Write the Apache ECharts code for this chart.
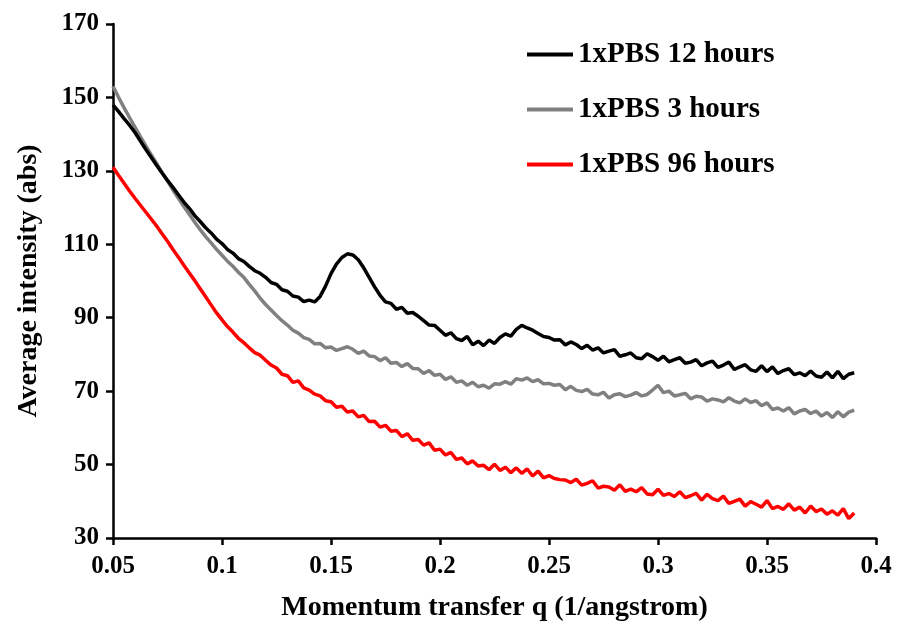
<!DOCTYPE html>
<html>
<head>
<meta charset="utf-8">
<script src="https://cdn.jsdelivr.net/npm/echarts@6/dist/echarts.min.js"></script>
<style>html,body{margin:0;padding:0;background:#fff}#c{width:898px;height:631px}</style>
</head>
<body>
<div id="c"></div>
<script>
var seriesNames = ['1xPBS 12 hours', '1xPBS 3 hours', '1xPBS 96 hours'];
var xTicks = [0.05, 0.1, 0.15, 0.2, 0.25, 0.3, 0.35, 0.4];
var yTicks = [30, 50, 70, 90, 110, 130, 150, 170];

var q = [
0.05,0.0525,0.055,0.0575,0.06,0.0625,0.065,0.0675,0.07,0.0725,0.075,0.0775,
0.08,0.0825,0.085,0.0875,0.09,0.0925,0.095,0.0975,0.1,0.1025,0.105,0.1075,
0.11,0.1125,0.115,0.1175,0.12,0.1225,0.125,0.1275,0.13,0.1325,0.135,0.1375,
0.14,0.1425,0.145,0.1475,0.15,0.1525,0.155,0.1575,0.16,0.1625,0.165,0.1675,
0.17,0.1725,0.175,0.1775,0.18,0.1825,0.185,0.1875,0.19,0.1925,0.195,0.1975,
0.2,0.2025,0.205,0.2075,0.21,0.2125,0.215,0.2175,0.22,0.2225,0.225,0.2275,
0.23,0.2325,0.235,0.2375,0.24,0.2425,0.245,0.2475,0.25,0.2525,0.255,0.2575,
0.26,0.2625,0.265,0.2675,0.27,0.2725,0.275,0.2775,0.28,0.2825,0.285,0.2875,
0.29,0.2925,0.295,0.2975,0.3,0.3025,0.305,0.3075,0.31,0.3125,0.315,0.3175,
0.32,0.3225,0.325,0.3275,0.33,0.3325,0.335,0.3375,0.34,0.3425,0.345,0.3475,
0.35,0.3525,0.355,0.3575,0.36,0.3625,0.365,0.3675,0.37,0.3725,0.375,0.3775,
0.38,0.3825,0.385,0.3875,0.39
];

var pbs12h = [
148,146.2,144.3,142.5, 140.5,138.2,135.9,133.7, 131.5,129.4,127.4,125.5,
123.5,121.5,119.8,117.8, 116.2,114.5,113.1,111.4, 110.2,108.6,107.6,106.1,
105.3,104.0,102.8,102.1, 101.0,99.6,99.1,97.6, 97.2,95.9,95.6,94.4,
94.8,94.3,95.8,98.6, 102.0,104.6,106.4,107.4, 107.1,105.8,103.6,101.0,
98.4,96.1,94.3,93.9, 92.3,92.8,91.2,91.4, 90.4,89.2,88.0,87.9,
86.6,85.2,85.9,84.3, 83.8,84.9,82.6,83.6, 82.4,83.9,83.0,84.6,
85.6,85.0,86.8,87.9, 87.2,86.6,85.7,84.9, 84.6,83.9,84.0,82.6,
83.4,82.7,81.6,82.5, 81.2,81.8,80.4,80.9, 81.3,79.5,79.9,80.4,
79.1,78.8,80.2,79.4, 78.4,79.5,78.0,78.6, 79.1,77.6,77.9,78.6,
76.9,77.7,78.2,76.5, 77.1,77.9,75.9,76.6, 77.2,75.8,75.4,76.9,
75.3,76.6,74.8,75.6, 76.1,74.5,75.0,74.2, 75.5,74.1,73.8,75.2,
73.6,75.4,73.4,74.6, 75.0
];

var pbs3h = [
153,150.1,147.3,144.6, 142.0,139.4,136.9,134.4, 132.0,129.6,127.2,124.8,
122.5,120.3,118.2,116.0, 114.0,112.1,110.4,108.6, 107.0,105.4,104.0,102.4,
101.0,99.1,97.3,95.3, 93.6,92.1,90.6,89.2, 88.0,86.6,85.8,84.6,
84.1,82.9,83.0,81.8, 82.0,81.1,81.6,82.1, 81.4,80.3,80.9,79.6,
79.4,78.3,79.1,77.6, 77.8,76.7,77.5,76.2, 76.1,74.8,75.6,74.3,
74.6,73.2,73.9,72.4, 72.8,71.6,72.4,71.2, 71.6,70.8,72.0,71.9,
72.6,71.9,73.4,73.0, 73.6,72.6,73.1,72.0, 72.1,71.6,71.8,70.4,
71.3,70.2,69.9,70.5, 69.2,69.0,69.7,68.1, 69.0,69.3,68.5,68.9,
69.6,68.7,69.1,70.3, 71.6,69.6,70.0,68.7, 69.0,69.4,67.9,68.6,
68.4,67.3,67.9,67.6, 67.1,68.2,67.3,66.8, 67.9,66.9,67.4,66.0,
66.8,65.0,65.4,64.6, 65.5,63.8,64.6,65.0, 63.9,64.6,63.2,64.2,
62.8,64.4,63.0,64.3, 64.8
];

var pbs96h = [
131,128.8,126.7,124.6, 122.6,120.7,118.8,116.9, 115.0,112.9,110.8,108.6,
106.5,104.3,102.2,100.1, 97.9,95.7,93.5,91.3, 89.4,87.6,86.1,84.4,
83.2,81.8,80.5,79.8, 78.4,77.1,76.3,74.6, 74.2,72.4,72.8,70.9,
70.3,69.2,68.7,67.4, 67.1,65.6,65.9,64.3, 64.6,63.0,63.4,61.7,
61.8,60.2,60.7,59.1, 59.3,57.6,58.4,56.6, 56.8,55.3,55.9,53.9,
54.2,52.6,53.3,51.4, 51.8,50.2,51.0,49.6, 49.8,48.6,50.1,48.4,
49.3,47.8,49.1,47.6, 48.8,46.9,48.2,46.4, 47.0,46.2,45.9,45.8,
45.1,46.0,44.4,44.9, 45.6,43.6,44.1,43.9, 43.0,44.5,42.7,43.3,
42.6,43.7,42.0,41.8, 43.3,41.6,42.1,41.3, 42.6,41.0,41.5,42.2,
40.3,41.9,40.7,40.2, 41.4,39.4,40.0,40.6, 38.7,39.9,39.2,38.4,
40.2,38.0,38.6,37.8, 39.3,37.6,38.4,36.8, 38.7,37.2,37.9,36.5,
37.4,36.2,38.0,35.3, 36.8
];

function pairs(ys) {
  var out = [];
  for (var i = 0; i < q.length; i++) out.push([q[i], ys[i]]);
  return out;
}

var FONT = '"Liberation Serif", "Times New Roman", serif';
var chart = echarts.init(document.getElementById('c'), null, { renderer: 'canvas' });
var axisLine = { show: true, lineStyle: { color: '#000', width: 2.5 } };
var axisTick = { show: true, inside: false, length: 7, lineStyle: { color: '#000', width: 2.5 } };

chart.setOption({
  backgroundColor: '#fff',
  animation: false,
  grid: { left: 113, right: 22, top: 24, bottom: 93, containLabel: false },
  legend: {
    orient: 'vertical',
    left: 527,
    top: 40,
    padding: 0,
    itemWidth: 46,
    itemHeight: 4,
    itemGap: 26,
    icon: 'rect',
    textStyle: { fontFamily: FONT, fontWeight: 'bold', fontSize: 29, color: '#000' },
    data: seriesNames
  },
  xAxis: {
    type: 'value',
    min: xTicks[0],
    max: xTicks[xTicks.length - 1],
    interval: 0.05,
    name: 'Momentum transfer q (1/angstrom)',
    nameLocation: 'middle',
    nameGap: 56,
    nameTextStyle: { fontFamily: FONT, fontWeight: 'bold', fontSize: 28, color: '#000' },
    axisLine: axisLine,
    axisTick: axisTick,
    splitLine: { show: false },
    axisLabel: {
      fontFamily: FONT, fontWeight: 'bold', fontSize: 25, color: '#000', margin: 16,
      formatter: function (v) { return String(+v.toFixed(2)); }
    }
  },
  yAxis: {
    type: 'value',
    min: yTicks[0],
    max: yTicks[yTicks.length - 1],
    interval: 20,
    name: 'Average intensity (abs)',
    nameLocation: 'middle',
    nameGap: 70,
    nameRotate: 90,
    nameTextStyle: { fontFamily: FONT, fontWeight: 'bold', fontSize: 28, color: '#000' },
    axisLine: axisLine,
    axisTick: axisTick,
    splitLine: { show: false },
    axisLabel: { fontFamily: FONT, fontWeight: 'bold', fontSize: 25, color: '#000', margin: 14 }
  },
  series: [
    { name: seriesNames[1], type: 'line', data: pairs(pbs3h), showSymbol: false, symbol: 'none',
      lineStyle: { color: '#808080', width: 3.5 }, itemStyle: { color: '#808080' }, z: 2 },
    { name: seriesNames[0], type: 'line', data: pairs(pbs12h), showSymbol: false, symbol: 'none',
      lineStyle: { color: '#000000', width: 3.5 }, itemStyle: { color: '#000000' }, z: 3 },
    { name: seriesNames[2], type: 'line', data: pairs(pbs96h), showSymbol: false, symbol: 'none',
      lineStyle: { color: '#ff0000', width: 3.5 }, itemStyle: { color: '#ff0000' }, z: 2 }
  ]
});
</script>
</body>
</html>
